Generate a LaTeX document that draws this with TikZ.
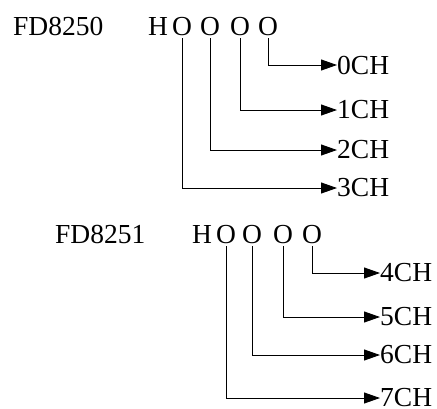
\documentclass[tikz,border=0pt]{standalone}
\usepackage{fontspec}
\setmainfont{Liberation Serif}
\usepackage{tikz}
\usetikzlibrary{arrows.meta}

\begin{document}
\begin{tikzpicture}[x=1pt, y=-1pt,
      every node/.style={font=\fontsize{27.5pt}{30pt}\selectfont, inner sep=0pt},
      letter/.style={anchor=base, outer ysep=3pt},
      chan/.style={anchor=west},
      a/.style={-{Triangle[length=16pt, width=11pt]}, line width=0.9pt}]
    \useasboundingbox (0,0) rectangle (437,408);
    % register FD8250
    \node[anchor=base west] (ra) at (13,35) {FD8250};
    \node[anchor=base west] (ha) at (148,35) {H};
    \node[letter] (a1) at (182,35) {O};
    \node[letter] (a2) at (210,35) {O};
    \node[letter] (a3) at (240,35) {O};
    \node[letter] (a4) at (268,35) {O};
    \node[chan] (ch0) at (337,65) {0CH};
    \node[chan] (ch1) at (337,110) {1CH};
    \node[chan] (ch2) at (337,150) {2CH};
    \node[chan] (ch3) at (337,188) {3CH};
    \draw[a] (a4.south) |- (ch0.west);
    \draw[a] (a3.south) |- (ch1.west);
    \draw[a] (a2.south) |- (ch2.west);
    \draw[a] (a1.south) |- (ch3.west);
    % register FD8251
    \node[anchor=base west] (rb) at (55,243) {FD8251};
    \node[anchor=base west] (hb) at (192,243) {H};
    \node[letter] (b1) at (226,243) {O};
    \node[letter] (b2) at (252,243) {O};
    \node[letter] (b3) at (283,243) {O};
    \node[letter] (b4) at (312,243) {O};
    \node[chan] (ch4) at (380,273) {4CH};
    \node[chan] (ch5) at (380,317) {5CH};
    \node[chan] (ch6) at (380,355) {6CH};
    \node[chan] (ch7) at (380,398) {7CH};
    \draw[a] (b4.south) |- (ch4.west);
    \draw[a] (b3.south) |- (ch5.west);
    \draw[a] (b2.south) |- (ch6.west);
    \draw[a] (b1.south) |- (ch7.west);
  \end{tikzpicture}
\end{document}
